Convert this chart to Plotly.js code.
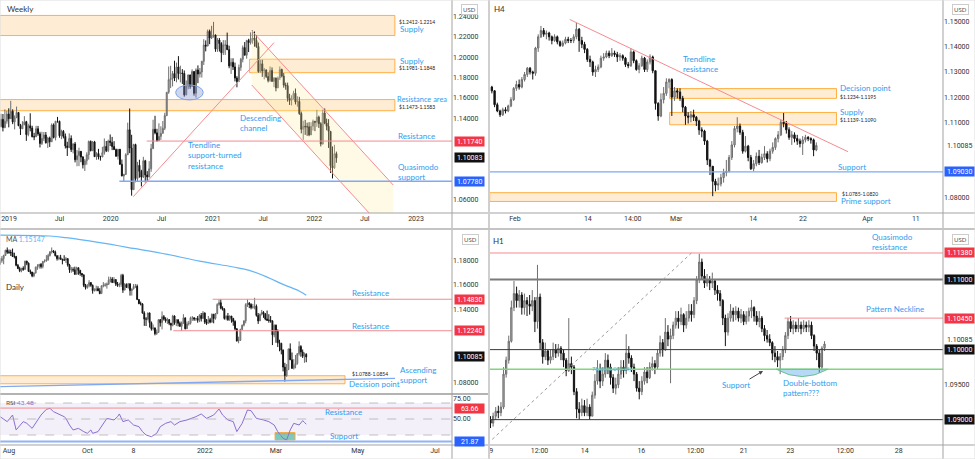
<!DOCTYPE html>
<html><head><meta charset="utf-8">
<script src="https://cdn.plot.ly/plotly-3.0.1.min.js"></script>
<style>html,body{margin:0;padding:0;background:#fff;}#chart{width:975px;height:459px;}</style>
</head><body><div id="chart"></div>
<script>
// ================= DATA =================
// ---- Weekly EUR/USD, weeks starting Mon 2018-12-03 (open = previous close) ----
const wStart = [2018, 11, 3];
const wOpen0 = 1.1316;
const wClose = [
 1.1388,1.1307,1.1370,1.1440,
 1.1395,1.1467,1.1363,1.1407,1.1456,1.1325,1.1295,1.1334,1.1365,1.1238,1.1325,1.1302,1.1217,
 1.1216,1.1296,1.1245,1.1150,1.1200,1.1234,1.1157,1.1204,1.1168,1.1333,1.1210,1.1370,1.1369,
 1.1226,1.1270,1.1220,1.1126,1.1109,1.1200,1.1090,1.1145,1.0990,1.1030,1.1073,1.1017,1.0940,
 1.0980,1.1040,1.1170,1.1080,1.1165,1.1020,1.1052,1.1018,1.1017,1.1060,1.1121,1.1080,1.1175,
 1.1160,1.1120,1.1090,1.1025,1.1093,1.0945,1.0830,1.0845,1.1040,1.1285,1.1105,1.0695,1.1140,
 1.0805,1.0935,1.0875,1.0820,1.0980,1.0840,1.0820,1.0900,1.1100,1.1290,1.1255,1.1180,1.1220,
 1.1250,1.1300,1.1425,1.1655,1.1780,1.1790,1.1840,1.1795,1.1905,1.1840,1.1845,1.1840,1.1630,
 1.1715,1.1825,1.1715,1.1860,1.1645,1.1875,1.1835,1.1855,1.1960,1.2120,1.2110,1.2255,1.2190,
 1.2215,1.2220,1.2080,1.2170,1.2135,1.2045,1.2120,1.2120,1.2075,1.1915,1.1950,1.1905,1.1795,
 1.1760,1.1900,1.1980,1.2095,1.2020,1.2165,1.2145,1.2180,1.2190,1.2165,1.2105,1.1860,1.1935,
 1.1865,1.1875,1.1810,1.1770,1.1870,1.1762,1.1795,1.1698,1.1795,1.1880,1.1815,1.1725,1.1720,
 1.1595,1.1575,1.1600,1.1645,1.1560,1.1565,1.1445,1.1290,1.1320,1.1315,1.1315,1.1235,1.1320,
 1.1370,1.1360,1.1410,1.1345,1.1145,1.1450,1.1350,1.1320,1.1270,1.0930,1.0910,1.1050,1.1008];
const wHigh = [
 1.1443,1.1441,1.1486,1.1472,
 1.1497,1.1570,1.1487,1.1427,1.1514,1.1457,1.1343,1.1370,1.1420,1.1373,1.1345,1.1448,1.1325,
 1.1255,1.1324,1.1323,1.1265,1.1265,1.1264,1.1263,1.1216,1.1218,1.1348,1.1348,1.1370,1.1412,
 1.1375,1.1286,1.1283,1.1248,1.1167,1.1250,1.1230,1.1153,1.1165,1.1085,1.1109,1.1076,1.1025,
 1.0998,1.1063,1.1179,1.1180,1.1175,1.1176,1.1065,1.1097,1.1030,1.1117,1.1200,1.1175,1.1188,
 1.1239,1.1215,1.1173,1.1100,1.1096,1.1096,1.0992,1.0851,1.1054,1.1355,1.1495,1.1236,1.1147,
 1.1148,1.0969,1.0990,1.0891,1.1019,1.0989,1.0878,1.0976,1.1147,1.1384,1.1423,1.1295,1.1349,
 1.1320,1.1372,1.1453,1.1655,1.1909,1.1916,1.1865,1.1966,1.1948,1.2011,1.1917,1.1883,1.1870,
 1.1771,1.1831,1.1829,1.1881,1.1861,1.1891,1.1920,1.1894,1.1965,1.2178,1.2166,1.2273,1.2273,
 1.2310,1.2349,1.2222,1.2190,1.2190,1.2149,1.2169,1.2169,1.2243,1.2114,1.1990,1.1990,1.1947,
 1.1814,1.1928,1.1994,1.2116,1.2150,1.2172,1.2182,1.2245,1.2266,1.2254,1.2219,1.2145,1.1975,
 1.1975,1.1895,1.1880,1.1850,1.1909,1.1900,1.1805,1.1800,1.1810,1.1910,1.1887,1.1845,1.1750,
 1.1750,1.1640,1.1625,1.1670,1.1692,1.1616,1.1610,1.1464,1.1374,1.1383,1.1355,1.1360,1.1360,
 1.1386,1.1370,1.1482,1.1425,1.1360,1.1483,1.1495,1.1395,1.1390,1.1272,1.1121,1.1137,1.1070];
const wLow = [
 1.1310,1.1269,1.1301,1.1345,
 1.1309,1.1395,1.1341,1.1289,1.1399,1.1322,1.1234,1.1296,1.1353,1.1176,1.1221,1.1270,1.1211,
 1.1183,1.1219,1.1226,1.1111,1.1135,1.1174,1.1150,1.1106,1.1116,1.1164,1.1200,1.1180,1.1355,
 1.1207,1.1193,1.1200,1.1101,1.1027,1.1131,1.1066,1.1052,1.0964,1.0926,1.0927,1.0966,1.0904,
 1.0879,1.0941,1.0991,1.1072,1.1075,1.1020,1.0989,1.0993,1.0981,1.1017,1.1040,1.1066,1.1065,
 1.1125,1.1085,1.1087,1.1019,1.0992,1.0940,1.0827,1.0778,1.0840,1.1035,1.1055,1.0636,1.0693,
 1.0768,1.0770,1.0813,1.0727,1.0810,1.0766,1.0775,1.0817,1.0871,1.1095,1.1240,1.1168,1.1184,
 1.1185,1.1250,1.1282,1.1420,1.1640,1.1696,1.1712,1.1765,1.1753,1.1781,1.1752,1.1737,1.1612,
 1.1625,1.1685,1.1689,1.1706,1.1622,1.1603,1.1745,1.1800,1.1800,1.1924,1.2058,1.2110,1.2129,
 1.2180,1.2193,1.2054,1.2053,1.2056,1.1952,1.2022,1.2023,1.2071,1.1892,1.1836,1.1874,1.1762,
 1.1704,1.1760,1.1867,1.1950,1.2020,1.1986,1.2051,1.2125,1.2133,1.2104,1.2093,1.1847,1.1847,
 1.1807,1.1782,1.1795,1.1752,1.1757,1.1760,1.1706,1.1664,1.1700,1.1776,1.1801,1.1700,1.1680,
 1.1563,1.1530,1.1525,1.1585,1.1535,1.1513,1.1432,1.1250,1.1186,1.1235,1.1225,1.1222,1.1267,
 1.1278,1.1272,1.1314,1.1303,1.1121,1.1140,1.1340,1.1280,1.1106,1.0860,1.0806,1.0900,1.0960];
const wSupplyTop = [1.2214, 1.2412];
const wSupplyMid = [1.1848, 1.1981];
const wResArea = [1.1473, 1.1583];
const wResistance = 1.1174;
const wQMSupport = 1.0778;
const wLast = 1.10083;
const wPriceTicks = [1.06, 1.14, 1.16, 1.18, 1.20, 1.22, 1.24];
const wTicks = ['2019-01-01','2019-07-01','2020-01-01','2020-07-01','2021-01-01','2021-07-01','2022-01-01','2022-07-01','2023-01-01'];
const wTickText = ['2019','Jul','2020','Jul','2021','Jul','2022','Jul','2023'];

// ---- H4 (3 bars per trading day, from Thu 2022-01-27) ----
const h4Open0 = 1.1240;
const h4Close = [
 1.1225,1.1170,1.1145, 1.1130,1.1150,1.1145,
 1.1165,1.1190,1.1235, 1.1250,1.1240,1.1270,
 1.1290,1.1315,1.1300, 1.1295,1.1395,1.1440,
 1.1465,1.1450,1.1455, 1.1440,1.1425,1.1440,
 1.1420,1.1405,1.1415, 1.1430,1.1425,1.1425,
 1.1440,1.1470,1.1425, 1.1410,1.1390,1.1350,
 1.1340,1.1300,1.1310, 1.1320,1.1355,1.1360,
 1.1375,1.1365,1.1375, 1.1370,1.1360,1.1365,
 1.1355,1.1330,1.1325, 1.1380,1.1345,1.1310,
 1.1325,1.1355,1.1310, 1.1340,1.1360,1.1305,
 1.1175,1.1125,1.1190, 1.1215,1.1260,1.1270,
 1.1200,1.1225,1.1220, 1.1195,1.1160,1.1125,
 1.1120,1.1130,1.1120, 1.1105,1.1070,1.1065,
 1.1025,1.0950,1.0925, 1.0865,1.0850,1.0855,
 1.0880,1.0900,1.0905, 1.0960,1.1010,1.1075,
 1.1085,1.1060,1.0985, 1.1005,1.0960,1.0915,
 1.0935,1.0965,1.0940, 1.0960,1.0975,1.0955,
 1.0985,1.1000,1.1035, 1.1050,1.1100,1.1095,
 1.1070,1.1040,1.1050, 1.1035,1.1025,1.1015,
 1.1030,1.1040,1.1035, 1.1030,1.0990,1.1008];
const h4High = [
 1.1245,1.1228,1.1178, 1.1150,1.1158,1.1160,
 1.1170,1.1200,1.1240, 1.1265,1.1270,1.1280,
 1.1300,1.1320,1.1320, 1.1305,1.1400,1.1450,
 1.1483,1.1475,1.1465, 1.1460,1.1445,1.1450,
 1.1445,1.1425,1.1425, 1.1440,1.1440,1.1435,
 1.1450,1.1495,1.1475, 1.1440,1.1420,1.1395,
 1.1365,1.1345,1.1325, 1.1330,1.1365,1.1375,
 1.1385,1.1385,1.1395, 1.1385,1.1380,1.1375,
 1.1370,1.1360,1.1340, 1.1395,1.1385,1.1350,
 1.1335,1.1365,1.1360, 1.1350,1.1370,1.1365,
 1.1305,1.1180,1.1215, 1.1240,1.1275,1.1275,
 1.1275,1.1240,1.1235, 1.1235,1.1205,1.1165,
 1.1140,1.1145,1.1150, 1.1125,1.1110,1.1080,
 1.1070,1.1030,1.0955, 1.0890,1.0875,1.0880,
 1.0895,1.0915,1.0950, 1.0970,1.1025,1.1085,
 1.1120,1.1095,1.1070, 1.1045,1.1010,1.0970,
 1.0950,1.0980,1.0990, 1.0975,1.1005,1.0985,
 1.0995,1.1020,1.1040, 1.1065,1.1110,1.1137,
 1.1105,1.1080,1.1065, 1.1060,1.1050,1.1035,
 1.1045,1.1050,1.1045, 1.1040,1.1035,1.1020];
const h4Low = [
 1.1215,1.1160,1.1140, 1.1121,1.1125,1.1135,
 1.1140,1.1160,1.1185, 1.1225,1.1230,1.1235,
 1.1262,1.1280,1.1290, 1.1270,1.1285,1.1380,
 1.1435,1.1440,1.1430, 1.1425,1.1410,1.1420,
 1.1410,1.1400,1.1400, 1.1410,1.1415,1.1415,
 1.1415,1.1430,1.1380, 1.1395,1.1375,1.1340,
 1.1320,1.1285,1.1280, 1.1300,1.1315,1.1345,
 1.1355,1.1355,1.1360, 1.1360,1.1340,1.1345,
 1.1345,1.1320,1.1315, 1.1320,1.1335,1.1305,
 1.1295,1.1320,1.1300, 1.1300,1.1330,1.1295,
 1.1150,1.1106,1.1120, 1.1175,1.1205,1.1235,
 1.1125,1.1185,1.1195, 1.1185,1.1140,1.1090,
 1.1095,1.1100,1.1105, 1.1085,1.1050,1.1040,
 1.1010,1.0930,1.0890, 1.0806,1.0825,1.0830,
 1.0845,1.0860,1.0885, 1.0900,1.0950,1.1000,
 1.1060,1.1050,1.0975, 1.0980,1.0945,1.0910,
 1.0905,1.0925,1.0930, 1.0935,1.0950,1.0940,
 1.0945,1.0975,1.0990, 1.1020,1.1045,1.1080,
 1.1055,1.1030,1.1010, 1.1020,1.1010,1.1000,
 1.0970,1.1020,1.1025, 1.1015,1.0965,1.0985];
const h4DecisionPoint = [1.1195, 1.1234];
const h4Supply = [1.1090, 1.1139];
const h4Support = 1.0903;
const h4PrimeSupport = [1.0785, 1.0820];
const h4Last = 1.10085;
const h4PriceTicks = [1.08, 1.11, 1.12, 1.13, 1.14, 1.15];
const h4TickPos = [3.0, 11.9, 17.4, 22.7, 32.1, 38.2, 46.1, 52.0];
const h4TickText = ['Feb','14','14:00','Mar','14','22','Apr','11'];

// ---- Daily (trading days from Mon 2021-07-26) ----
const dOpen0 = 1.1770;
const dClose = [
 1.1800,1.1817,1.1843,1.1886,1.1870, 1.1869,1.1866,1.1835,1.1834,1.1762,
 1.1735,1.1718,1.1738,1.1729,1.1796, 1.1780,1.1712,1.1707,1.1675,1.1699,
 1.1747,1.1754,1.1771,1.1751,1.1795, 1.1798,1.1808,1.1843,1.1874,1.1880,
 1.1870,1.1841,1.1817,1.1825,1.1812, 1.1805,1.1805,1.1817,1.1765,1.1725,
 1.1726,1.1725,1.1688,1.1742,1.1720, 1.1695,1.1683,1.1597,1.1580,1.1595,
 1.1620,1.1598,1.1554,1.1555,1.1570, 1.1552,1.1530,1.1594,1.1597,1.1600,
 1.1607,1.1640,1.1650,1.1620,1.1645, 1.1608,1.1598,1.1605,1.1680,1.1558,
 1.1605,1.1580,1.1610,1.1555,1.1568, 1.1588,1.1590,1.1480,1.1446,1.1445,
 1.1369,1.1320,1.1320,1.1370,1.1290, 1.1240,1.1247,1.1200,1.1210,1.1315,
 1.1290,1.1340,1.1320,1.1305,1.1315, 1.1285,1.1270,1.1345,1.1290,1.1315,
 1.1285,1.1260,1.1290,1.1330,1.1240, 1.1280,1.1285,1.1330,1.1330,1.1320,
 1.1325,1.1310,1.1350,1.1325,1.1370, 1.1295,1.1285,1.1315,1.1295,1.1360,
 1.1325,1.1365,1.1440,1.1455,1.1410, 1.1400,1.1325,1.1345,1.1315,1.1345,
 1.1325,1.1300,1.1240,1.1140,1.1145, 1.1235,1.1270,1.1305,1.1440,1.1450,
 1.1440,1.1415,1.1420,1.1425,1.1350, 1.1305,1.1360,1.1375,1.1360,1.1320,
 1.1310,1.1310,1.1305,1.1190,1.1270, 1.1220,1.1125,1.1120,1.1065,1.0925,
 1.0855,1.0905,1.1075,1.0985,1.0915, 1.0940,1.0955,1.1035,1.1095,1.1050,
 1.1015,1.1030,1.1008];
const dHigh = [
 1.1823,1.1838,1.1849,1.1890,1.1909, 1.1892,1.1890,1.1900,1.1866,1.1840,
 1.1773,1.1750,1.1740,1.1754,1.1800, 1.1800,1.1785,1.1727,1.1703,1.1703,
 1.1751,1.1771,1.1770,1.1780,1.1797, 1.1811,1.1846,1.1857,1.1875,1.1909,
 1.1887,1.1883,1.1845,1.1845,1.1848, 1.1816,1.1845,1.1831,1.1819,1.1774,
 1.1749,1.1746,1.1751,1.1750,1.1745, 1.1725,1.1698,1.1688,1.1609,1.1608,
 1.1640,1.1624,1.1604,1.1573,1.1595, 1.1590,1.1574,1.1595,1.1624,1.1617,
 1.1620,1.1669,1.1668,1.1665,1.1665, 1.1646,1.1625,1.1619,1.1692,1.1692,
 1.1616,1.1613,1.1616,1.1613,1.1570, 1.1608,1.1609,1.1605,1.1484,1.1464,
 1.1450,1.1384,1.1336,1.1374,1.1374, 1.1300,1.1275,1.1251,1.1234,1.1318,
 1.1320,1.1383,1.1353,1.1335,1.1330, 1.1320,1.1289,1.1355,1.1350,1.1315,
 1.1316,1.1300,1.1300,1.1360,1.1332, 1.1300,1.1305,1.1340,1.1345,1.1335,
 1.1330,1.1345,1.1360,1.1370,1.1386, 1.1375,1.1320,1.1345,1.1330,1.1365,
 1.1360,1.1370,1.1450,1.1480,1.1482, 1.1425,1.1410,1.1350,1.1370,1.1350,
 1.1345,1.1330,1.1310,1.1245,1.1175, 1.1240,1.1275,1.1310,1.1450,1.1483,
 1.1460,1.1450,1.1445,1.1495,1.1440, 1.1370,1.1365,1.1395,1.1385,1.1370,
 1.1390,1.1360,1.1345,1.1310,1.1275, 1.1275,1.1235,1.1150,1.1125,1.1070,
 1.0960,1.0950,1.1075,1.1120,1.1045, 1.0990,1.1025,1.1040,1.1137,1.1105,
 1.1070,1.1045,1.1040];
const dLow = [
 1.1772,1.1783,1.1771,1.1840,1.1856, 1.1856,1.1839,1.1831,1.1819,1.1754,
 1.1734,1.1706,1.1705,1.1717,1.1725, 1.1763,1.1713,1.1689,1.1664,1.1664,
 1.1695,1.1725,1.1735,1.1735,1.1737, 1.1784,1.1792,1.1800,1.1834,1.1858,
 1.1862,1.1835,1.1801,1.1804,1.1809, 1.1770,1.1800,1.1781,1.1751,1.1700,
 1.1701,1.1708,1.1684,1.1688,1.1684, 1.1676,1.1665,1.1583,1.1563,1.1569,
 1.1581,1.1585,1.1529,1.1547,1.1548, 1.1552,1.1524,1.1530,1.1581,1.1586,
 1.1570,1.1600,1.1621,1.1618,1.1618, 1.1592,1.1585,1.1582,1.1585,1.1535,
 1.1558,1.1577,1.1570,1.1513,1.1513, 1.1564,1.1575,1.1480,1.1443,1.1432,
 1.1365,1.1264,1.1263,1.1309,1.1250, 1.1225,1.1226,1.1186,1.1190,1.1206,
 1.1258,1.1235,1.1308,1.1290,1.1280, 1.1270,1.1227,1.1260,1.1273,1.1262,
 1.1260,1.1258,1.1222,1.1280,1.1235, 1.1240,1.1267,1.1275,1.1305,1.1305,
 1.1305,1.1290,1.1295,1.1300,1.1325, 1.1280,1.1272,1.1285,1.1285,1.1290,
 1.1285,1.1315,1.1360,1.1430,1.1400, 1.1390,1.1315,1.1310,1.1305,1.1305,
 1.1290,1.1265,1.1225,1.1135,1.1121, 1.1140,1.1230,1.1260,1.1285,1.1420,
 1.1410,1.1400,1.1405,1.1400,1.1340, 1.1280,1.1305,1.1350,1.1330,1.1310,
 1.1305,1.1290,1.1290,1.1106,1.1170, 1.1125,1.1090,1.1055,1.1030,1.0890,
 1.0806,1.0845,1.0900,1.0985,1.0910, 1.0905,1.0915,1.0945,1.1020,1.1010,
 1.1000,1.0960,1.0965];
const maIdx = [0, 28, 37, 56, 75, 94, 112, 131, 140, 150, 159, 168, 172];
const maVal = [1.2011, 1.2003, 1.1989, 1.1948, 1.1901, 1.1852, 1.1797, 1.1748, 1.1720, 1.1665, 1.1605, 1.1551, 1.1515];
const maLast = 1.15147;
const rsiIdx = [0,4,7,9,13,15,18,21,23,26, 28,30,33,36,37,39,41,44,47,49, 51,52,55,57,60,64,66,67,69,72,
 75,78,80,82,85,88,90,93,96,98, 101,105,108,110,113,116,120,123,125,128, 131,133,136,139,141,144,148,151,154,156,
 159,161,163,165,168,170,171,172];
const rsiVal = [52.9,46.7,55.0,36.3,46.7,44.6,38.3,48.8,55.0,62.1, 63.3,59.2,56.3,52.9,50.8,42.5,36.3,38.3,34.2,32.1,
 36.3,32.1,34.2,40.4,50.8,48.8,52.9,56.3,46.7,48.8, 42.5,40.4,34.2,30.0,27.9,32.1,40.4,44.6,46.7,42.5,
 46.7,48.8,50.8,52.9,56.3,50.8,55.0,62.5,55.0,48.8, 46.7,34.2,44.6,61.3,60.4,50.8,48.8,46.7,42.5,34.2,
 25.8,23.8,36.3,44.6,42.5,47.9,45.8,43.48];
const dRes1 = 1.1483, dRes2 = 1.1224, dLast = 1.10085;
const dDecision = [1.0788, 1.0854];
const rsiRes = 63.66, rsiSup = 21.87;
const dPriceTicks = [1.08, 1.14, 1.16, 1.18];
const rsiTicks = [50, 75];
const dTickPos = [5, 49, 75, 115, 155, 201, 244.3];
const dTickText = ['Aug','Oct','8','2022','Mar','May','Jul'];

// ---- H1 (2-hour bars from Wed 2022-03-09) ----
const h1Open0 = 1.0900;
const h1Close = [
 1.0895,1.0905,1.0912,1.0910,1.0918,1.0965,1.0985,1.1012,1.1060,1.1080,
 1.1070,1.1078,1.1060,1.1070,1.1065,1.1062,1.1070,1.1040,1.1075,1.1010,
 1.0990,1.0998,1.0985,1.0990,1.1000,1.0995,1.1002,1.0995,1.0985,1.0970,
 1.0980,1.0975,1.0940,1.0915,1.0910,1.0920,1.0910,1.0918,1.0905,1.0935,
 1.0955,1.0970,1.0955,1.0965,1.0985,1.0975,1.0960,1.0945,1.0950,1.0965,
 1.0975,1.0970,1.0995,1.0988,1.0975,1.0965,1.0945,1.0940,1.0955,1.0968,
 1.0960,1.0975,1.0980,1.0975,1.0995,1.1010,1.1000,1.1025,1.1015,1.1020,
 1.1035,1.1045,1.1040,1.1050,1.1035,1.1045,1.1055,1.1050,1.1070,1.1100,
 1.1125,1.1105,1.1095,1.1100,1.1095,1.1098,1.1085,1.1080,1.1070,1.1045,
 1.1025,1.1045,1.1055,1.1050,1.1055,1.1045,1.1050,1.1040,1.1048,1.1055,
 1.1060,1.1048,1.1040,1.1045,1.1030,1.1020,1.1015,1.1010,1.0995,1.0990,
 1.0985,1.0990,1.1000,1.1020,1.1040,1.1030,1.1035,1.1030,1.1035,1.1030,
 1.1035,1.1032,1.1035,1.1020,1.1005,1.0995,1.0975,1.1002,1.1008];
const h1High = [
 1.0905,1.0910,1.0918,1.0920,1.0925,1.0975,1.0990,1.1020,1.1070,1.1098,
 1.1090,1.1085,1.1082,1.1080,1.1075,1.1078,1.1085,1.1075,1.1121,1.1080,
 1.1015,1.1010,1.1000,1.1000,1.1010,1.1008,1.1008,1.1005,1.1000,1.0988,
 1.1045,1.0990,1.0978,1.0945,1.0925,1.0930,1.0928,1.0930,1.0922,1.0940,
 1.0965,1.0985,1.0980,1.0975,1.0995,1.0993,1.0980,1.0965,1.0960,1.0975,
 1.0985,1.0985,1.1022,1.1005,1.0992,1.0980,1.0968,1.0955,1.0962,1.0975,
 1.0975,1.0982,1.0990,1.0985,1.1000,1.1020,1.1015,1.1045,1.1035,1.1030,
 1.1040,1.1055,1.1055,1.1060,1.1052,1.1055,1.1065,1.1065,1.1075,1.1105,
 1.1137,1.1130,1.1115,1.1108,1.1105,1.1110,1.1100,1.1092,1.1085,1.1072,
 1.1050,1.1052,1.1065,1.1060,1.1062,1.1060,1.1058,1.1055,1.1055,1.1060,
 1.1071,1.1062,1.1055,1.1055,1.1048,1.1035,1.1028,1.1022,1.1012,1.1005,
 1.0998,1.0995,1.1005,1.1025,1.1045,1.1048,1.1042,1.1040,1.1045,1.1040,
 1.1042,1.1040,1.1042,1.1040,1.1022,1.1008,1.1000,1.1005,1.1012];
const h1Low = [
 1.0888,1.0890,1.0900,1.0902,1.0905,1.0915,1.0960,1.0980,1.1010,1.1055,
 1.1060,1.1060,1.1050,1.1050,1.1048,1.1050,1.1055,1.1025,1.1030,1.1000,
 1.0980,1.0985,1.0978,1.0980,1.0985,1.0988,1.0990,1.0985,1.0975,1.0962,
 1.0968,1.0965,1.0935,1.0902,1.0900,1.0905,1.0905,1.0905,1.0900,1.0905,
 1.0930,1.0950,1.0945,1.0948,1.0960,1.0965,1.0950,1.0938,1.0936,1.0945,
 1.0958,1.0960,1.0965,1.0980,1.0968,1.0955,1.0940,1.0929,1.0935,1.0950,
 1.0952,1.0958,1.0970,1.0965,1.0972,1.0990,1.0990,1.0998,1.1005,1.0952,
 1.1015,1.1030,1.1030,1.1035,1.1025,1.1030,1.1040,1.1040,1.1045,1.1065,
 1.1095,1.1100,1.1088,1.1090,1.1085,1.1088,1.1078,1.1070,1.1062,1.1035,
 1.1005,1.1020,1.1040,1.1040,1.1042,1.1040,1.1038,1.1035,1.1036,1.1040,
 1.1045,1.1040,1.1035,1.1032,1.1025,1.1012,1.1010,1.1005,1.0985,1.0982,
 1.0975,1.0965,1.0985,1.0995,1.1015,1.1025,1.1022,1.1025,1.1025,1.1022,
 1.1025,1.1025,1.1025,1.1015,1.0998,1.0985,1.0967,1.0970,1.0998];
const h1QMRes = 1.1138, h1Round1 = 1.1100, h1Neck = 1.1045, h1Round2 = 1.1000, h1Fib = 1.0972, h1Round3 = 1.0900, h1Last = 1.10085;
const h1PriceTicks = [1.095];
const h1TickPos = [0.3, 18.8, 36.1, 57.8, 78.5, 97.0, 114.9, 135.9, 156.4];
const h1TickText = ['9','12:00','14','16','12:00','21','23','12:00','28'];

// ================= BUILD =================
const W = 975, H = 459;
const FONT = 'Lato, "Open Sans", sans-serif';
const TFONT = 'Roboto, sans-serif';
const BLUE = '#2f9cf0';
const RED = '#f58b90';
const LBL = 8;
const OR_FILL = 'rgba(255,170,60,0.22)', OR_LINE = 'rgba(255,165,40,0.85)';
const prevClose = (o0, c) => [o0].concat(c.slice(0, -1));
const wDates = wClose.map((_, i) => new Date(Date.UTC(wStart[0], wStart[1], wStart[2] + 7 * i)).toISOString().slice(0, 10));
const h4X = h4Close.map((_, j) => j / 3 + 1 / 6);
const dX = dClose.map((_, i) => i);
const h1X = h1Close.map((_, k) => k);

function candle(x, o, h, l, c, xa, ya) {
  return {type:'candlestick', x, open:o, high:h, low:l, close:c, xaxis:xa, yaxis:ya,
    increasing:{line:{color:'#6e6e6e', width:1}, fillcolor:'#b5b5b5'},
    decreasing:{line:{color:'#121212', width:1}, fillcolor:'#121212'},
    whiskerwidth:0, hoverinfo:'skip', showlegend:false};
}

// weekly descending channel drawing anchors
const chA = '2021-05-21', chB = '2022-10-11';
const chUp = [1.2262, 1.0741], chLo = [1.1727, 1.0206];

const traces = [
  {type:'scatter', mode:'none', x:[chA, chB, chB, chA], y:[chUp[0], chUp[1], chLo[1], chLo[0]], fill:'toself',
   fillcolor:'rgba(255,236,160,0.28)', xaxis:'x', yaxis:'y', hoverinfo:'skip', showlegend:false},
  candle(wDates, prevClose(wOpen0, wClose), wHigh, wLow, wClose, 'x', 'y'),
  candle(h4X, prevClose(h4Open0, h4Close), h4High, h4Low, h4Close, 'x2', 'y2'),
  candle(dX, prevClose(dOpen0, dClose), dHigh, dLow, dClose, 'x3', 'y3'),
  {type:'scatter', mode:'lines', x:maIdx, y:maVal, line:{color:'#64b5f6', width:1.2, shape:'spline'}, xaxis:'x3', yaxis:'y3', hoverinfo:'skip', showlegend:false},
  {type:'scatter', mode:'lines', x:rsiIdx, y:rsiVal, line:{color:'#8c6fd1', width:1}, xaxis:'x3', yaxis:'y5', hoverinfo:'skip', showlegend:false},
  candle(h1X, prevClose(h1Open0, h1Close), h1High, h1Low, h1Close, 'x4', 'y4')
];

const shapes = [];
const ann = [];
function seg(xref, yref, x0, y0, x1, y1, color, width, dash, layer) {
  shapes.push({type:'line', xref, yref, x0, y0, x1, y1, layer: layer || 'above', line:{color, width, dash: dash || 'solid'}});
}
function zone(xref, yref, x0, x1, ys) {
  shapes.push({type:'rect', xref, yref, x0, x1, y0: ys[0], y1: ys[1], layer:'below', fillcolor:OR_FILL, line:{color:OR_LINE, width:1}});
}
function pline(x0, y0, x1, y1, color, width) {
  shapes.push({type:'line', xref:'paper', yref:'paper', x0:x0 / W, y0:1 - y0 / H, x1:x1 / W, y1:1 - y1 / H, layer:'above', line:{color, width}});
}
function T(x, y, text, size, color, extra) {
  ann.push(Object.assign({xref:'paper', yref:'paper', x:x / W, y:1 - y / H, text, showarrow:false, xanchor:'left', yanchor:'middle', align:'left',
    font:{family:FONT, size, color}}, extra || {}));
}
function tag(yref, xPix, val, text, bg, fg) {
  ann.push({xref:'paper', yref, x:xPix / W, y:val, text, showarrow:false, xanchor:'left', yanchor:'middle',
    bgcolor:bg, width:27, height:7, borderpad:1.2, font:{family:TFONT, size:7, color:fg}});
}
function ptag(xPix, yPix, text, bg, fg) {
  ann.push({xref:'paper', yref:'paper', x:xPix / W, y:1 - yPix / H, text, showarrow:false, xanchor:'left', yanchor:'middle',
    bgcolor:bg, width:27, height:7, borderpad:1.2, font:{family:TFONT, size:7, color:fg}});
}

// ---- Weekly drawings ----
zone('x', 'y', '2018-11-20', '2022-10-17', wSupplyTop);
zone('x', 'y', '2021-05-13', '2022-10-17', wSupplyMid);
zone('x', 'y', '2018-11-20', '2022-10-17', wResArea);
seg('x', 'y', '2020-05-09', wResistance, '2023-06-01', wResistance, RED, 1);
seg('x', 'y', '2020-02-01', wQMSupport, '2023-06-01', wQMSupport, '#7fa9f5', 1.3);
seg('x', 'y', '2020-03-22', 1.0626, '2021-08-09', 1.2144, RED, 1);
seg('x', 'y', chA, chUp[0], chB, chUp[1], RED, 1);
seg('x', 'y', chA, chLo[0], chB, chLo[1], RED, 1);
shapes.push({type:'circle', xref:'x', yref:'y', x0:'2020-08-21', x1:'2020-11-28', y0:1.1579, y1:1.1727, layer:'above',
  fillcolor:'rgba(120,140,200,0.35)', line:{color:'#7ea4e8', width:1}});

T(5, 9, 'Weekly', 8, '#333');
T(397, 22, '$1.2412-1.2214', 5, '#222');
T(398, 29, 'Supply', LBL, BLUE);
T(398, 61, 'Supply', LBL, BLUE);
T(397, 68, '$1.1981-1.1848', 5, '#222');
T(395, 99, 'Resistance area', 7.4, BLUE);
T(397, 107, '$1.1473-1.1583', 5, '#222');
T(396, 136, 'Resistance', LBL, BLUE);
T(396, 172, 'Quasimodo<br>support', LBL, BLUE);
T(238, 123, 'Descending<br>channel', LBL, BLUE);
T(186, 155, 'Trendline<br>support-turned<br>resistance', LBL, BLUE);
tag('y', 454, wResistance, wResistance.toFixed(5), '#f23645', '#fff');
tag('y', 454, wLast, wLast.toFixed(5), '#111', '#fff');
tag('y', 454, wQMSupport, wQMSupport.toFixed(5), '#2962ff', '#fff');
T(461, 9, 'USD', 6, '#555', {bordercolor:'#ccc', borderwidth:1, borderpad:1});

// ---- H4 drawings ----
zone('x2', 'y2', 21.9, 42.3, h4DecisionPoint);
zone('x2', 'y2', 21.9, 42.3, h4Supply);
zone('x2', 'y2', -0.1, 42.3, h4PrimeSupport);
seg('x2', 'y2', -1, h4Support, 60, h4Support, '#7fa9f5', 1.3);
seg('x2', 'y2', 9.68, 1.1509, 43.7, 1.0983, RED, 1);
T(492, 9, 'H4', 8, '#333');
T(681, 63.5, 'Trendline<br>resistance', LBL, BLUE);
T(838, 88, 'Decision point', LBL, BLUE);
T(838, 97, '$1.1234-1.1195', 5, '#222');
T(838, 112, 'Supply', LBL, BLUE);
T(838, 120, '$1.1139-1.1090', 5, '#222');
T(836, 167, 'Support', LBL, BLUE);
T(840, 194, '$1.0785-1.0820', 5, '#222');
T(839, 201, 'Prime support', LBL, BLUE);
tag('y2', 944, h4Last, h4Last.toFixed(5), '#fff', '#333');
tag('y2', 944, h4Support, h4Support.toFixed(5), '#2962ff', '#fff');
T(952, 9, 'USD', 6, '#555', {bordercolor:'#ccc', borderwidth:1, borderpad:1});

// ---- Daily drawings ----
zone('x3', 'y3', -5, 193.8, dDecision);
seg('x3', 'y3', 119.4, dRes1, 300, dRes1, RED, 1);
seg('x3', 'y3', 97.3, dRes2, 300, dRes2, RED, 1);
seg('x3', 'y3', -1, 1.0764, 221.9, 1.0833, '#7fa9f5', 1.3);
T(4, 239, 'MA <span style="color:#64b5f6">' + maLast.toFixed(5) + '</span>', 7, '#555');
T(4, 287, 'Daily', 8, '#333');
T(350, 293, 'Resistance', LBL, BLUE);
T(350, 326, 'Resistance', LBL, BLUE);
T(350, 374, '$1.0788-1.0854', 5, '#222');
T(398, 375, 'Ascending<br>support', LBL, BLUE);
T(347, 383.5, 'Decision point', LBL, BLUE);
tag('y3', 454, dRes1, dRes1.toFixed(5), '#f23645', '#fff');
tag('y3', 454, dRes2, dRes2.toFixed(5), '#f23645', '#fff');
tag('y3', 454, dLast, dLast.toFixed(5), '#111', '#fff');
T(462, 239, 'USD', 6, '#555', {bordercolor:'#ccc', borderwidth:1, borderpad:1, bgcolor:'#fff'});
// RSI
shapes.push({type:'rect', xref:'x3', yref:'y5', x0:-5, x1:300, y0:30, y1:70, layer:'below', fillcolor:'rgba(126,87,194,0.09)', line:{width:0}});
seg('x3', 'y5', -5, 70, 300, 70, '#b0b0b0', 0.8, 'dash');
seg('x3', 'y5', -5, 50, 300, 50, '#b0b0b0', 0.8, 'dash');
seg('x3', 'y5', -5, 30, 300, 30, '#b0b0b0', 0.8, 'dash');
seg('x3', 'y5', -5, rsiRes, 300, rsiRes, RED, 1);
seg('x3', 'y5', -5, rsiSup, 300, rsiSup, '#8fb4f5', 1.8);
shapes.push({type:'rect', xref:'x3', yref:'y5', x0:154.5, x1:165.7, y0:23.8, y1:33, layer:'below', fillcolor:'rgba(38,166,140,0.6)', line:{color:'#f5a83c', width:1}});
T(4, 402, 'RSI <span style="color:#8c6fd1">' + rsiVal[rsiVal.length - 1].toFixed(2) + '</span>', 6.5, '#555');
T(323, 412, 'Resistance', LBL, BLUE);
T(328, 436, 'Support', LBL, BLUE);
tag('y5', 454, rsiRes, rsiRes.toFixed(2), '#f23645', '#fff');
tag('y5', 454, rsiSup, rsiSup.toFixed(2), '#2962ff', '#fff');

// ---- H1 drawings ----
seg('x4', 'y4', -2, h1QMRes, 180, h1QMRes, RED, 1);
seg('x4', 'y4', -2, h1Round1, 180, h1Round1, '#7b7b7b', 2);
seg('x4', 'y4', 112.7, h1Neck, 180, h1Neck, RED, 1);
seg('x4', 'y4', -2, h1Round2, 180, h1Round2, '#3a3a3a', 1);
seg('x4', 'y4', -2, h1Fib, 180, h1Fib, '#7fd67f', 1.6);
seg('x4', 'y4', -2, h1Round3, 180, h1Round3, '#3a3a3a', 1);
seg('x4', 'y4', -1, 1.0866, 77, 1.1138, '#9a9a9a', 1, 'dot');
shapes.push({type:'path', xref:'x4', yref:'y4', path:'M 109.5,' + h1Fib + ' Q 119.4,1.0951 129.3,' + h1Fib + ' Z', layer:'above',
  fillcolor:'rgba(120,185,240,0.55)', line:{color:'#6cc38a', width:1}});
T(491, 241, 'H1', 8, '#333');
T(870, 241.5, 'Quasimodo<br>resistance', LBL, BLUE);
T(864, 309, 'Pattern Neckline', LBL, BLUE);
T(590, 368.5, '78.6%(1.09714)', 5.5, '#4aa6c9');
T(720, 385, 'Support', LBL, BLUE);
ann.push({xref:'paper', yref:'paper', x:763 / W, y:1 - 371 / H, ax:-15, ay:9, axref:'pixel', ayref:'pixel', text:'', showarrow:true,
  arrowhead:2, arrowsize:0.8, arrowwidth:1, arrowcolor:'#444'});
T(781, 388, 'Double-bottom<br>pattern???', LBL, BLUE);
tag('y4', 944, h1QMRes, h1QMRes.toFixed(5), '#f23645', '#fff');
tag('y4', 944, h1Round1, h1Round1.toFixed(5), '#111', '#fff');
tag('y4', 944, h1Neck, h1Neck.toFixed(5), '#f23645', '#fff');
ptag(944, 339.5, h1Last.toFixed(5), '#fff', '#333');
tag('y4', 944, h1Round2, h1Round2.toFixed(5), '#111', '#fff');
tag('y4', 944, h1Round3, h1Round3.toFixed(5), '#111', '#fff');
T(952, 239, 'USD', 6, '#555', {bordercolor:'#ccc', borderwidth:1, borderpad:1, bgcolor:'#fff'});

// ---- frame lines ----
const AX = '#a3a3a3';
pline(452, 0, 452, 228, AX, 1);
pline(0, 213, 488, 213, AX, 1);
pline(943, 0, 943, 228, AX, 1);
pline(490, 213, 975, 213, AX, 1);
pline(452, 230, 452, 459, AX, 1);
pline(0, 394, 488, 394, '#9a9a9a', 1.6);
pline(0, 445, 488, 445, AX, 1);
pline(943, 230, 943, 459, AX, 1);
pline(490, 445, 975, 445, AX, 1);
pline(489, 0, 489, 459, '#cfcfcf', 2);
pline(0, 229, 975, 229, '#c4c4c4', 2);
shapes.push({type:'rect', xref:'paper', yref:'paper', x0:0, x1:1, y0:0, y1:1, layer:'above', line:{color:'#dedede', width:1}});

// ---- axes ----
const TF = {family:TFONT, size:7, color:'#333'};
function yax(y0, y1, range, anchor, tickvals, fmt) {
  return {domain:[1 - y1 / H, 1 - y0 / H], range, side:'right', anchor, showgrid:false, zeroline:false, showline:false,
    ticks:'', tickfont:TF, automargin:false, fixedrange:true, tickmode:'array', tickvals, tickformat:fmt};
}
function xax(x0, x1, range, tickvals, ticktext, anchor, type) {
  return {domain:[x0 / W, x1 / W], range, anchor, type, tickmode:'array', tickvals, ticktext, showgrid:false, zeroline:false, showline:false,
    ticks:'', tickfont:TF, automargin:false, fixedrange:true, rangeslider:{visible:false}};
}
const layout = {
  width:W, height:H, margin:{l:0, r:0, t:0, b:0}, paper_bgcolor:'#fff', plot_bgcolor:'rgba(0,0,0,0)', showlegend:false,
  xaxis: xax(0, 452, ['2018-11-29 12:00', '2023-05-10'], wTicks, wTickText, 'y', 'date'),
  yaxis: yax(2, 213, [1.04651, 1.25446], 'x', wPriceTicks, '.5f'),
  xaxis2: xax(490, 943, [-0.061, 55.32], h4TickPos, h4TickText, 'y2', 'linear'),
  yaxis2: yax(2, 213, [1.07391, 1.15784], 'x2', h4PriceTicks, '.5f'),
  xaxis3: xax(0, 452, [-0.056, 253.9], dTickPos, dTickText, 'y5', 'linear'),
  yaxis3: yax(231, 394, [1.07038, 1.20442], 'x3', dPriceTicks, '.5f'),
  yaxis5: yax(395, 445, [17.5, 80], 'x3', rsiTicks, '.2f'),
  xaxis4: xax(490, 943, [-0.19, 173.4], h1TickPos, h1TickText, 'y4', 'linear'),
  yaxis4: yax(231, 445, [1.08638, 1.11694], 'x4', h1PriceTicks, '.5f'),
  shapes, annotations: ann,
  font:{family:TFONT}
};
Plotly.newPlot('chart', traces, layout, {staticPlot:true, displayModeBar:false});
</script>
</body></html>
